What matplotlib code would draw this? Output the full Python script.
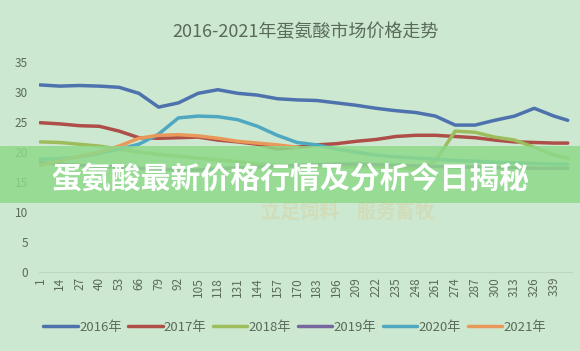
import matplotlib
matplotlib.use("Agg")
from matplotlib import pyplot as plt
from matplotlib.patches import Rectangle

plt.rcParams['font.family'] = ['Noto Sans CJK SC', 'DejaVu Sans']

# category index (1..348), read every 13 points
idx = [1, 14, 27, 40, 53, 66, 79, 92, 105, 118, 131, 144, 157, 170,
       183, 196, 209, 222, 235, 248, 261, 274, 287, 300, 313, 326, 339, 348]
tick_labels = [str(i) for i in range(1, 340, 13)]

y2016 = [31.2, 31.0, 31.1, 31.0, 30.8, 29.8, 27.5, 28.2, 29.8, 30.4, 29.8, 29.5, 28.9, 28.7,
         28.6, 28.2, 27.8, 27.3, 26.9, 26.6, 26.0, 24.5, 24.5, 25.3, 26.0, 27.3, 26.0, 25.3]
y2017 = [24.9, 24.7, 24.4, 24.3, 23.5, 22.4, 22.3, 22.4, 22.5, 22.0, 21.7, 21.3, 20.5, 20.8,
         21.2, 21.4, 21.8, 22.1, 22.6, 22.8, 22.8, 22.6, 22.4, 22.0, 21.7, 21.6, 21.5, 21.5]
y2018 = [21.7, 21.6, 21.3, 21.0, 20.5, 20.0, 19.6, 19.3, 19.0, 18.7, 18.4, 18.0, 17.8, 17.6,
         17.5, 17.5, 17.6, 17.6, 17.4, 17.2, 18.5, 23.5, 23.3, 22.5, 22.0, 20.8, 19.5, 19.0]
y2019 = [18.2, 18.0, 17.8, 17.6, 17.5, 17.3, 17.2, 17.0, 17.0, 17.2, 17.4, 17.5, 17.6, 17.8,
         17.9, 18.0, 18.0, 17.9, 17.8, 17.7, 17.6, 17.5, 17.5, 17.4, 17.4, 17.3, 17.3, 17.3]
y2020 = [18.8, 18.9, 19.2, 19.8, 20.5, 21.3, 23.0, 25.7, 26.0, 25.9, 25.4, 24.3, 22.8, 21.6,
         21.2, 20.5, 20.0, 19.5, 19.2, 19.0, 18.8, 18.6, 18.5, 18.3, 18.2, 18.1, 18.0, 18.0]
idx2021 = idx[:14]
y2021 = [17.8, 18.5, 19.3, 20.0, 21.0, 22.3, 22.8, 22.9, 22.7, 22.3, 21.8, 21.5, 21.2, 20.8]

series = [("2016年", idx, y2016, "#4d72ad"),
          ("2017年", idx, y2017, "#ad4f48"),
          ("2018年", idx, y2018, "#9dbd5d"),
          ("2019年", idx, y2019, "#76689e"),
          ("2020年", idx, y2020, "#4ea8c2"),
          ("2021年", idx2021, y2021, "#e8995a")]

bg = "#cde8d0"
fig = plt.figure(figsize=(5.8, 3.51), dpi=100, facecolor=bg)
ax = fig.add_axes([0.0676, 0.225, 0.9178, 0.598], facecolor=bg)

for name, xs, ys, c in series:
    ax.plot(xs, ys, color=c, lw=2.5, label=name, solid_capstyle='round')

ax.set_xlim(0.5, 350.5)
ax.set_ylim(0, 35)
ax.set_yticks(range(0, 36, 5))
ax.set_xticks(range(1, 340, 13))
ax.set_xticklabels(tick_labels, rotation=90)
ax.tick_params(axis='both', length=0, colors="#5a6a5c", labelsize=8.5)
ax.tick_params(axis='y', pad=8)
for s in ['top', 'right', 'left']:
    ax.spines[s].set_visible(False)
ax.spines['bottom'].set_color("#bcd6bf")

ax.set_title("2016-2021年蛋氨酸市场价格走势", fontsize=13, color="#5a6a5c", pad=18)

fig.legend(loc='center', bbox_to_anchor=(0.508, 0.068), ncol=6, frameon=False,
           fontsize=9.5, handlelength=2.6, handletextpad=0.1, columnspacing=0.5,
           labelcolor="#5a6a5c")

# faint watermark
fig.text(0.6, 0.395, "立足饲料    服务畜牧", fontsize=14, color="#d8c98e", alpha=0.35,
         ha='center', va='center', fontweight='bold', style='italic')

# overlay banner
fig.patches.append(Rectangle((0, 0.4217), 1, 0.1623, transform=fig.transFigure,
                             facecolor="#8ed98a", alpha=0.85, edgecolor='none', zorder=5))
fig.text(0.5, 0.487, "蛋氨酸最新价格行情及分析今日揭秘", fontsize=21.5, color="white",
         fontweight='bold', ha='center', va='center', zorder=6)

fig.savefig("out.png", dpi=100, facecolor=bg)
